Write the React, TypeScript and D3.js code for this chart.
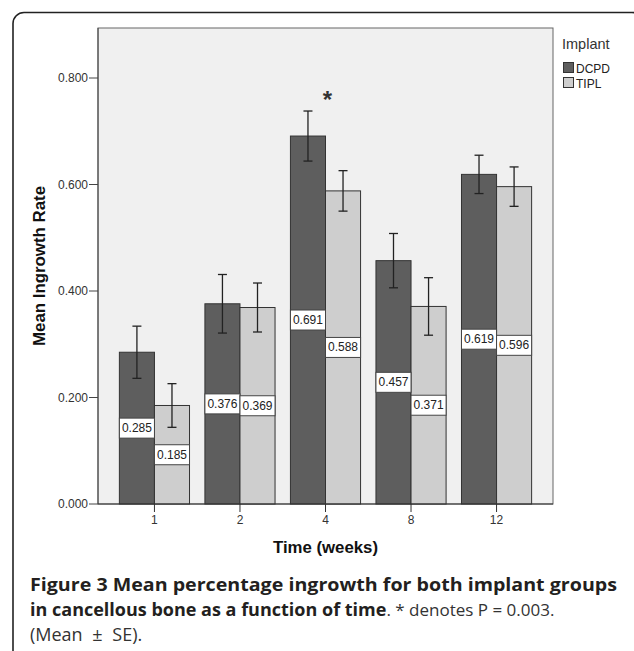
import React from 'react';
import * as d3 from 'd3';

const weeks = ['1', '2', '4', '8', '12'];
const dcpd = [0.285, 0.376, 0.691, 0.457, 0.619];
const tipl = [0.185, 0.369, 0.588, 0.371, 0.596];
const dcpdSE = [0.049, 0.055, 0.047, 0.051, 0.036];
const tiplSE = [0.041, 0.046, 0.038, 0.054, 0.037];
const yTicks = [0, 0.2, 0.4, 0.6, 0.8];
const groups = ['DCPD', 'TIPL'];
const colors = ['#5e5e5e', '#cecece'];

const W = 634;
const H = 651;
const plot = { left: 98, right: 553, top: 28, bottom: 504 };

const font = '"Liberation Sans", Arial, sans-serif';
const capFont = '"Open Sans", "Noto Sans", sans-serif';

function App() {
  const y = d3.scaleLinear().domain([0, 0.8]).range([plot.bottom, 78]);
  const x = d3.scaleBand().domain(weeks).range([plot.left, plot.right])
    .paddingInner(0.18).paddingOuter(0.25);
  const x1 = d3.scaleBand().domain(groups).range([0, x.bandwidth()]);

  const series = [
    { key: 'DCPD', values: dcpd, se: dcpdSE },
    { key: 'TIPL', values: tipl, se: tiplSE },
  ];

  const fmt = d3.format('.3f');

  return (
    <svg width={W} height={H} style={{ position: 'absolute', left: 0, top: 0 }}
      fontFamily={font}>
      <rect x={0} y={0} width={W} height={H} fill="#fff" />
      {/* outer rounded frame */}
      <rect x={13} y={12.5} width={630} height={700} rx={11} fill="none"
        stroke="#222" strokeWidth={1.6} />

      {/* plot area */}
      <rect x={plot.left} y={plot.top} width={plot.right - plot.left}
        height={plot.bottom - plot.top} fill="#f0f0f0" stroke="#666" strokeWidth={1} />

      {/* bars */}
      {series.map((s, si) => (
        <g key={s.key}>
          {weeks.map((w, i) => (
            <rect key={w} x={x(w)! + x1(s.key)!} y={y(s.values[i])}
              width={x1.bandwidth()} height={plot.bottom - y(s.values[i])}
              fill={colors[si]} stroke="#333" strokeWidth={1} />
          ))}
        </g>
      ))}

      {/* error bars */}
      {series.map((s) => (
        <g key={s.key + 'err'} stroke="#222" strokeWidth={1.3}>
          {weeks.map((w, i) => {
            const cx = x(w)! + x1(s.key)! + x1.bandwidth() / 2;
            const y0 = y(s.values[i] - s.se[i]);
            const y1 = y(s.values[i] + s.se[i]);
            return (
              <g key={w}>
                <line x1={cx} x2={cx} y1={y0} y2={y1} />
                <line x1={cx - 4.5} x2={cx + 4.5} y1={y0} y2={y0} />
                <line x1={cx - 4.5} x2={cx + 4.5} y1={y1} y2={y1} />
              </g>
            );
          })}
        </g>
      ))}

      {/* value labels */}
      {series.map((s) => (
        <g key={s.key + 'lab'}>
          {weeks.map((w, i) => {
            const bx = x(w)! + x1(s.key)!;
            const cy = y(s.values[i] / 2);
            return (
              <g key={w}>
                <rect x={bx} y={cy - 10} width={x1.bandwidth()} height={20}
                  fill="#fff" stroke="#444" strokeWidth={1} />
                <text x={bx + x1.bandwidth() / 2} y={cy + 4} textAnchor="middle"
                  fontSize={12} fill="#222">{fmt(s.values[i])}</text>
              </g>
            );
          })}
        </g>
      ))}

      {/* significance marker */}
      <text x={x('4')! + x.bandwidth() / 2 + 2} y={y(dcpd[2] + dcpdSE[2]) - 3}
        textAnchor="middle" fontSize={24} fontWeight="bold" fill="#333">*</text>

      {/* y axis */}
      <line x1={plot.left} x2={plot.left} y1={plot.top} y2={plot.bottom} stroke="#444" />
      {yTicks.map((t) => (
        <g key={t}>
          <line x1={89} x2={plot.left} y1={y(t)} y2={y(t)} stroke="#444" />
          <text x={88} y={y(t) + 4} textAnchor="end" fontSize={12} fill="#333">{fmt(t)}</text>
        </g>
      ))}

      {/* x axis */}
      <line x1={plot.left} x2={plot.right} y1={plot.bottom} y2={plot.bottom} stroke="#333" />
      {weeks.map((w) => {
        const cx = x(w)! + x.bandwidth() / 2;
        return (
          <g key={w}>
            <line x1={cx} x2={cx} y1={plot.bottom} y2={plot.bottom + 8} stroke="#333" />
            <text x={cx} y={524} textAnchor="middle" fontSize={12} fill="#333">{w}</text>
          </g>
        );
      })}

      {/* axis titles */}
      <text x={(plot.left + plot.right) / 2} y={553} textAnchor="middle"
        fontSize={16} fontWeight="bold" fill="#111" textLength={105}
        lengthAdjust="spacingAndGlyphs">Time (weeks)</text>
      <text transform={`translate(45,${(plot.top + plot.bottom) / 2}) rotate(-90)`}
        textAnchor="middle" fontSize={16} fontWeight="bold" fill="#111" textLength={160}
        lengthAdjust="spacingAndGlyphs">Mean Ingrowth Rate</text>

      {/* legend */}
      <text x={562} y={49} fontSize={14.5} fill="#333">Implant</text>
      {groups.map((g, i) => (
        <g key={g}>
          <rect x={563.5} y={62.5 + i * 15} width={10} height={10} fill={colors[i]}
            stroke="#333" strokeWidth={1} />
          <text x={576} y={72.5 + i * 15} fontSize={12} fill="#222">{g}</text>
        </g>
      ))}

      {/* caption */}
      <g fontFamily={capFont} fontSize={18} fill="#231f20">
        <text x={30} y={591} fontWeight="bold" textLength={587} lengthAdjust="spacingAndGlyphs">
          Figure 3 Mean percentage ingrowth for both implant groups</text>
        <text x={30} y={616}>
          <tspan fontWeight="bold">in cancellous bone as a function of time</tspan>
          <tspan fill="#333" fontSize={17}>. * denotes P = 0.003.</tspan>
        </text>
        <text x={30} y={641} fill="#333" style={{ wordSpacing: '5px' }}>(Mean ± SE).</text>
      </g>
    </svg>
  );
}

export default App;
